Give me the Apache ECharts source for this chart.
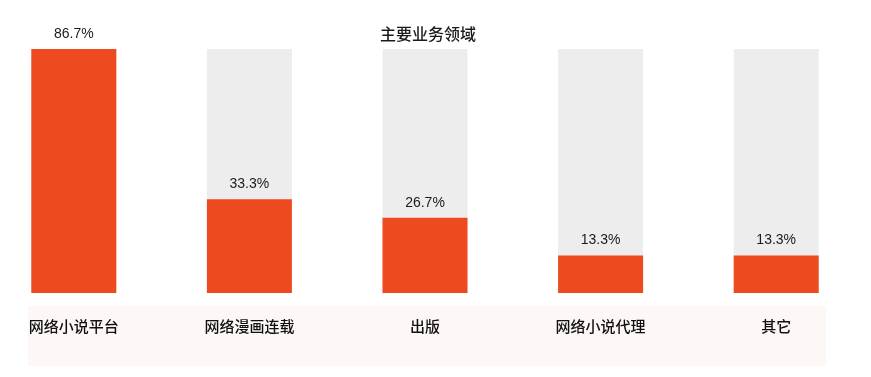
<!DOCTYPE html>
<html>
<head>
<meta charset="utf-8">
<script src="https://cdn.jsdelivr.net/npm/echarts@6/dist/echarts.min.js"></script>
<style>
  html, body { margin: 0; padding: 0; background: #fff; }
  #chart { width: 871px; height: 377px; }
</style>
</head>
<body>
<div id="chart"></div>
<script>
// 数据
const categories = ['网络小说平台', '网络漫画连载', '出版', '网络小说代理', '其它'];
const shares = [86.7, 33.3, 26.7, 13.3, 13.3];
const titleText = '主要业务领域';

const chart = echarts.init(document.getElementById('chart'));

chart.setOption({
    backgroundColor: '#fff',
    title: {
        text: titleText,
        left: 423,
        textAlign: 'center',
        top: 21,
        textStyle: {
            fontFamily: 'Noto Sans CJK SC',
            fontSize: 16,
            fontWeight: 500,
            color: '#1a1a1a'
        }
    },
    // 标签下方的浅粉色底带
    graphic: [{
        type: 'rect',
        z: -1,
        shape: { x: 28, y: 306, width: 798, height: 60 },
        style: { fill: '#fdf7f5' }
    }],
    grid: {
        left: -14,
        width: 878,
        top: 49,
        bottom: 84,
        outerBoundsMode: 'none',
        containLabel: false
    },
    xAxis: {
        type: 'category',
        data: categories,
        axisLine: { show: false },
        axisTick: { show: false },
        axisLabel: {
            margin: 26,
            fontFamily: 'Noto Sans CJK SC',
            fontSize: 15,
            fontWeight: 500,
            color: '#111'
        }
    },
    yAxis: {
        type: 'value',
        min: 0,
        max: 86.7,
        show: false,
        splitLine: { show: false }
    },
    series: [{
        type: 'bar',
        data: shares,
        barWidth: 85,
        showBackground: true,
        backgroundStyle: { color: '#ededed' },
        itemStyle: { color: '#ee4a1f' },
        label: {
            show: true,
            position: 'top',
            distance: 8,
            formatter: '{c}%',
            fontFamily: '"Liberation Sans Narrow", "Liberation Sans", sans-serif',
            fontSize: 14,
            color: '#1a1a1a'
        },
        silent: true
    }],
    animation: false
});
</script>
</body>
</html>
